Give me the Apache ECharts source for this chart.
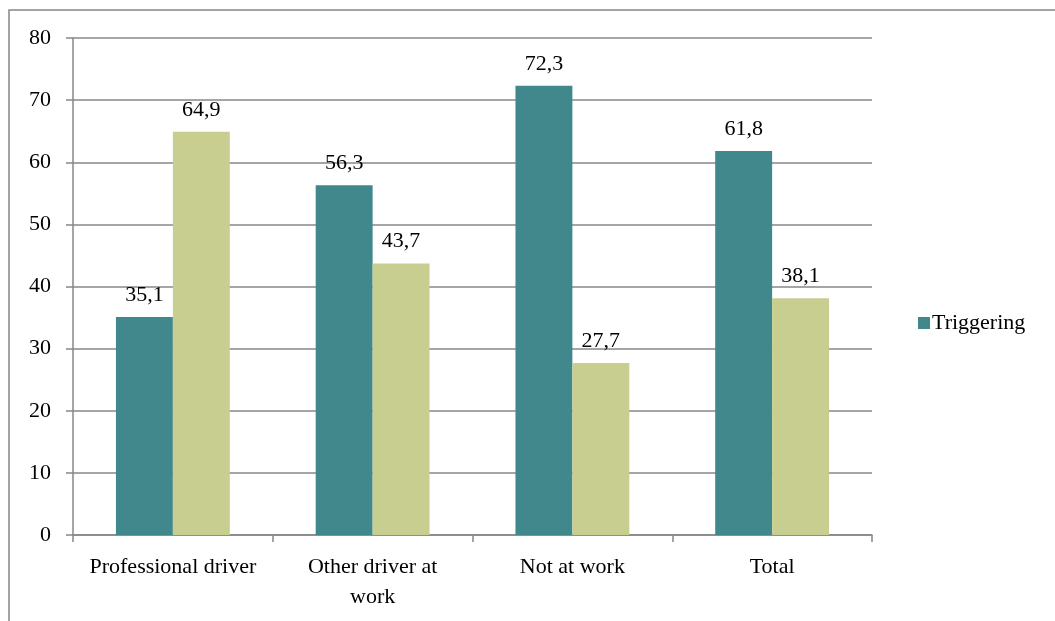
<!DOCTYPE html>
<html>
<head>
<meta charset="utf-8">
<script src="https://cdn.jsdelivr.net/npm/echarts@6/dist/echarts.min.js"></script>
<style>
  html, body { margin: 0; padding: 0; background: #fff; }
  #chart { width: 1055px; height: 621px; }
</style>
</head>
<body>
<div id="chart"></div>
<script>
const categories = ["Professional driver", "Other driver at\nwork", "Not at work", "Total"];
const triggering = [35.1, 56.3, 72.3, 61.8];
const otherValues = [64.9, 43.7, 27.7, 38.1];
const yTicks = { min: 0, max: 80, interval: 10 };

const fontFam = "'Liberation Serif', 'DejaVu Serif', serif";
const fontSz = 22;
const gray = "#878787";

const chart = echarts.init(document.getElementById("chart"));

const labelCfg = {
  show: true,
  position: "top",
  distance: 11,
  color: "#000",
  fontFamily: fontFam,
  fontSize: fontSz,
  formatter: (p) => String(p.value).replace(".", ",")
};

chart.setOption({
  animation: false,
  graphic: [{
    type: "rect",
    shape: { x: 9, y: 10, width: 1100, height: 700 },
    style: { fill: "none", stroke: gray, lineWidth: 1.5 }
  }],
  grid: { left: 73, right: 183, top: 38, bottom: 86 },
  legend: {
    data: ["Triggering"],
    left: 913,
    top: 307,
    itemWidth: 12,
    itemHeight: 12,
    itemGap: 4,
    icon: "rect",
    textStyle: { fontFamily: fontFam, fontSize: fontSz, color: "#000", padding: [0, 0, 0, -3] }
  },
  xAxis: {
    type: "category",
    data: categories,
    axisLine: { lineStyle: { color: gray, width: 1.5 } },
    axisTick: { show: true, length: 7, lineStyle: { color: gray, width: 1.5 } },
    axisLabel: { color: "#000", fontFamily: fontFam, fontSize: fontSz, margin: 17, lineHeight: 30, interval: 0 }
  },
  yAxis: {
    type: "value",
    min: yTicks.min,
    max: yTicks.max,
    interval: yTicks.interval,
    axisLine: { show: true, lineStyle: { color: gray, width: 1.5 } },
    axisTick: { show: true, length: 7, lineStyle: { color: gray, width: 1.5 } },
    axisLabel: { color: "#000", fontFamily: fontFam, fontSize: fontSz, margin: 22 },
    splitLine: { lineStyle: { color: gray, width: 1.5 } }
  },
  series: [
    {
      name: "Triggering",
      type: "bar",
      data: triggering,
      barGap: "0%",
      barCategoryGap: "43%",
      itemStyle: { color: "#41888C" },
      label: labelCfg
    },
    {
      name: "Not triggering",
      type: "bar",
      data: otherValues,
      itemStyle: { color: "#C7CE90" },
      label: labelCfg
    }
  ]
});
</script>
</body>
</html>
